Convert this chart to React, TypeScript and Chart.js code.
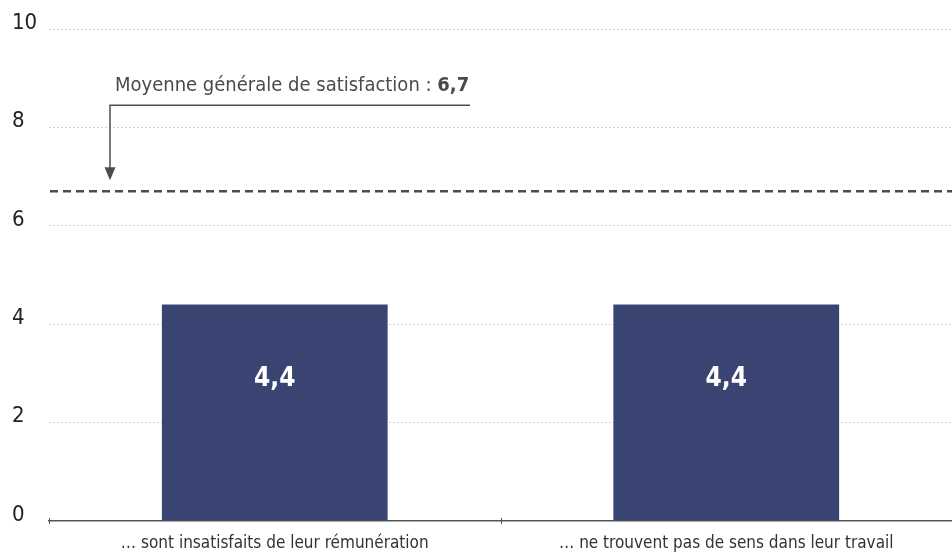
import React, { useEffect, useRef } from "react";
import { Chart, registerables } from "chart.js";

Chart.register(...registerables);

const categories = [
  "\u2026 sont insatisfaits de leur rémunération",
  "\u2026 ne trouvent pas de sens dans leur travail",
];
const values = [4.4, 4.4];
const valueLabels = ["4,4", "4,4"];
const meanValue = 6.7;
const meanText = "Moyenne générale de satisfaction : ";
const meanLabel = "6,7";
const yTicks = [0, 2, 4, 6, 8, 10];

const FONT = "'Liberation Sans Narrow', 'DejaVu Sans Condensed', 'Liberation Sans', sans-serif";

const overlayPlugin = {
  id: "overlay",
  afterDatasetsDraw(chart: any) {
    const { ctx, chartArea, scales } = chart;
    const y = scales.y;
    const meta = chart.getDatasetMeta(0);
    ctx.save();
    // value labels inside bars
    ctx.fillStyle = "#ffffff";
    ctx.font = `bold 26px ${FONT}`;
    ctx.textAlign = "center";
    ctx.textBaseline = "middle";
    meta.data.forEach((bar: any, i: number) => {
      const top = bar.y;
      const bottom = bar.base;
      ctx.fillText(valueLabels[i], bar.x, top + (bottom - top) * 0.345);
    });
    // mean dashed line
    const my = y.getPixelForValue(meanValue);
    ctx.strokeStyle = "#4d4d4d";
    ctx.lineWidth = 2.5;
    ctx.setLineDash([8, 5]);
    ctx.beginPath();
    ctx.moveTo(chartArea.left + 1, my);
    ctx.lineTo(chartArea.right, my);
    ctx.stroke();
    ctx.setLineDash([]);
    // annotation connector
    const ax = chartArea.left + 61;
    const lineY = my - 86;
    ctx.strokeStyle = "#4d4d4d";
    ctx.lineWidth = 1.5;
    ctx.beginPath();
    ctx.moveTo(chartArea.left + 421, lineY);
    ctx.lineTo(ax, lineY);
    ctx.lineTo(ax, my - 22);
    ctx.stroke();
    ctx.fillStyle = "#4d4d4d";
    ctx.beginPath();
    ctx.moveTo(ax - 5.5, my - 24);
    ctx.lineTo(ax + 5.5, my - 24);
    ctx.lineTo(ax, my - 11);
    ctx.closePath();
    ctx.fill();
    // annotation text
    ctx.textAlign = "left";
    ctx.textBaseline = "alphabetic";
    ctx.fillStyle = "#4a4a4a";
    ctx.font = `20px ${FONT}`;
    const tx = chartArea.left + 66;
    const ty = lineY - 14;
    ctx.fillText(meanText, tx, ty);
    const w = ctx.measureText(meanText).width;
    ctx.font = `bold 20px ${FONT}`;
    ctx.fillText(meanLabel, tx + w, ty);
    // x-axis tick marks crossing the axis line
    const xs = scales.x;
    ctx.strokeStyle = "#555555";
    ctx.lineWidth = 1;
    const base = chartArea.bottom;
    [0, 1].forEach((i) => {
      const px = Math.round(xs.getPixelForValue(i) - (xs.getPixelForValue(1) - xs.getPixelForValue(0)) / 2) + 0.5;
      ctx.beginPath();
      ctx.moveTo(px, base - 3);
      ctx.lineTo(px, base + 3);
      ctx.stroke();
    });
    ctx.restore();
  },
};

export default function App() {
  const ref = useRef<HTMLCanvasElement>(null);
  useEffect(() => {
    if (!ref.current) return;
    const chart = new Chart(ref.current, {
      type: "bar",
      data: {
        labels: categories,
        datasets: [
          {
            data: values,
            backgroundColor: "#394472",
            barPercentage: 0.5,
            categoryPercentage: 1,
          },
        ],
      },
      options: {
        animation: false,
        responsive: false,
        layout: { padding: { top: 29, right: 0, left: 12, bottom: 0 } },
        plugins: { legend: { display: false }, tooltip: { enabled: false } },
        scales: {
          x: {
            offset: true,
            border: { display: true, color: "#555555", width: 1.5 },
            grid: {
              display: false,
              offset: true,
            },
            ticks: {
              color: "#333333",
              font: { family: FONT, size: 17 },
              padding: 4,
              maxRotation: 0,
              autoSkip: false,
            },
            afterFit(scale: any) {
              scale.height = 32;
            },
          },
          y: {
            min: 0,
            max: 10,
            afterBuildTicks(scale: any) {
              scale.ticks = yTicks.map((v) => ({ value: v }));
            },
            border: { display: false, dash: [2, 2] },
            grid: {
              drawTicks: false,
              color: (c: any) => (c.tick && c.tick.value === 0 ? "rgba(0,0,0,0)" : "#d0d0d0"),
              lineWidth: 1,
            },
            ticks: {
              color: "#222222",
              font: { family: FONT, size: 22 },
              padding: 0,
              crossAlign: "far",
              labelOffset: -6,
            },
            afterFit(scale: any) {
              scale.width = 37;
            },
          } as any,
        },
      },
      plugins: [overlayPlugin],
    });
    return () => chart.destroy();
  }, []);
  return (
    <div style={{ position: "absolute", left: 0, top: 0, width: 952, height: 553, background: "#fff" }}>
      <canvas ref={ref} width={952} height={553} style={{ display: "block" }} />
    </div>
  );
}
